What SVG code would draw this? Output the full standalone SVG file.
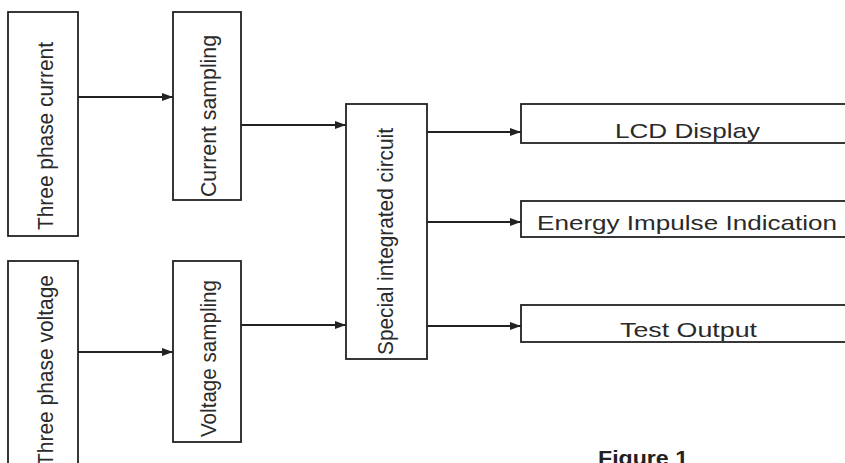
<svg xmlns="http://www.w3.org/2000/svg" width="845" height="463" viewBox="0 0 845 463">
<style>
.box{fill:#fff;stroke:#222;stroke-width:1.8}
.lbl{font-family:"Liberation Sans",Arial,sans-serif;font-size:21px;fill:#2a2a2a}
.vl{font-size:22px}
.con{stroke:#222;stroke-width:1.8;fill:none;marker-end:url(#ah)}
</style>
<defs>
<marker id="ah" markerWidth="12" markerHeight="10" refX="11" refY="4" orient="auto" markerUnits="userSpaceOnUse">
<path d="M0,0 L11,4 L0,8 Z" fill="#222"/>
</marker>
</defs>
<rect width="845" height="463" fill="#fff"/>
<g id="connectors">
<line class="con" x1="78" y1="97" x2="173" y2="97"/>
<line class="con" x1="241" y1="125" x2="346" y2="125"/>
<line class="con" x1="78" y1="352" x2="173" y2="352"/>
<line class="con" x1="241" y1="325" x2="346" y2="325"/>
<line class="con" x1="427" y1="132" x2="521" y2="132"/>
<line class="con" x1="427" y1="222" x2="521" y2="222"/>
<line class="con" x1="427" y1="326" x2="521" y2="326"/>
</g>
<g id="three-phase-current">
<rect class="box" x="8" y="12" width="70" height="224"/>
<text class="lbl vl" transform="translate(53,230) rotate(-90)" textLength="188" lengthAdjust="spacingAndGlyphs">Three phase current</text>
</g>
<g id="current-sampling">
<rect class="box" x="173" y="12" width="68" height="188"/>
<text class="lbl vl" transform="translate(216,197) rotate(-90)" textLength="162" lengthAdjust="spacingAndGlyphs">Current sampling</text>
</g>
<g id="three-phase-voltage">
<rect class="box" x="8" y="261" width="70" height="215"/>
<text class="lbl vl" transform="translate(53,466) rotate(-90)" textLength="191" lengthAdjust="spacingAndGlyphs">Three phase voltage</text>
</g>
<g id="voltage-sampling">
<rect class="box" x="173" y="261" width="68" height="181"/>
<text class="lbl vl" transform="translate(216,437) rotate(-90)" textLength="157" lengthAdjust="spacingAndGlyphs">Voltage sampling</text>
</g>
<g id="special-integrated-circuit">
<rect class="box" x="346" y="104" width="81" height="255"/>
<text class="lbl vl" transform="translate(393,355) rotate(-90)" textLength="227" lengthAdjust="spacingAndGlyphs">Special integrated circuit</text>
</g>
<g id="lcd-display">
<rect class="box" x="521" y="104" width="340" height="39"/>
<text class="lbl" x="615" y="138" textLength="145" lengthAdjust="spacingAndGlyphs">LCD Display</text>
</g>
<g id="energy-impulse-indication">
<rect class="box" x="521" y="201" width="340" height="36"/>
<text class="lbl" x="537" y="230" textLength="300" lengthAdjust="spacingAndGlyphs">Energy Impulse Indication</text>
</g>
<g id="test-output">
<rect class="box" x="521" y="305" width="340" height="37"/>
<text class="lbl" x="620" y="337" textLength="137" lengthAdjust="spacingAndGlyphs">Test Output</text>
</g>
<text x="598" y="465" font-family="Liberation Sans,Arial,sans-serif" font-size="20" font-weight="bold" fill="#222" textLength="90" lengthAdjust="spacingAndGlyphs">Figure 1</text>
</svg>
